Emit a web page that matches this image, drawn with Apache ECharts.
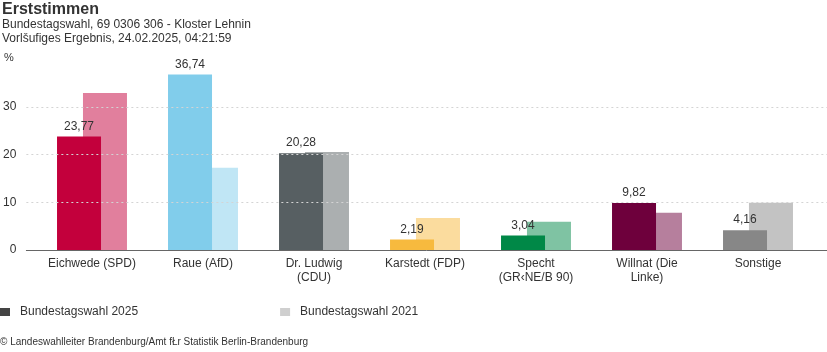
<!DOCTYPE html>
<html>
<head>
<meta charset="utf-8">
<script src="https://cdn.jsdelivr.net/npm/echarts@6/dist/echarts.min.js"></script>
<style>html,body{margin:0;padding:0;background:#fff}#c{width:827px;height:352px}</style>
</head>
<body>
<div id="c"></div>
<script>
const categories = ['Eichwede (SPD)', 'Raue (AfD)', 'Dr. Ludwig\n(CDU)', 'Karstedt (FDP)', 'Specht\n(GR\u2039NE/B 90)', 'Willnat (Die\nLinke)', 'Sonstige'];
const values2025 = [23.77, 36.74, 20.28, 2.19, 3.04, 9.82, 4.16];
const values2021 = [32.9, 17.2, 20.5, 6.7, 5.9, 7.8, 9.9];
const partyColors = ['#c3003c', '#81cdeb', '#575f62', '#f7ba3e', '#008847', '#6e003c', '#878787'];
const seriesNames = ['Bundestagswahl 2025', 'Bundestagswahl 2021'];
const gridValues = [10, 20, 30];
const yTicks = [0, 10, 20, 30, 40];

const FONT = '"Liberation Sans", Arial, sans-serif';
const chart = echarts.init(document.getElementById('c'), null, {renderer: 'canvas'});

const option = {
  animation: false,
  textStyle: {fontFamily: FONT},
  graphic: [
    {type: 'text', left: 2, top: 2, style: {text: 'Erststimmen', font: 'bold 16px ' + FONT, fill: '#333'}},
    {type: 'text', left: 2, top: 18.5, style: {text: 'Bundestagswahl, 69 0306 306 - Kloster Lehnin', font: '12px ' + FONT, fill: '#333'}},
    {type: 'text', left: 2, top: 33, style: {text: 'Vorl\u0161ufiges Ergebnis, 24.02.2025, 04:21:59', font: '12px ' + FONT, fill: '#333'}},
    {type: 'text', left: 4, top: 52, style: {text: '%', font: '11px ' + FONT, fill: '#333'}},
    {type: 'text', left: 0, top: 337, style: {text: '\u00a9 Landeswahlleiter Brandenburg/Amt f\u0141r Statistik Berlin-Brandenburg', font: '10px ' + FONT, fill: '#333'}}
  ],
  legend: {
    left: 0, top: 306, padding: 0,
    itemWidth: 10, itemHeight: 8, itemGap: 142,
    icon: 'rect',
    data: seriesNames,
    textStyle: {fontSize: 12, color: '#333', fontFamily: FONT, padding: [0, 0, 0, 5]},
    selectedMode: false
  },
  grid: [
    {left: 23, right: 0, top: 59, bottom: 102},
    {left: 36.5, right: 13.5, top: 59, bottom: 102}
  ],
  xAxis: [
    {type: 'value', gridIndex: 0, min: 0, max: 1, position: 'bottom',
     axisLine: {show: true, lineStyle: {color: '#666', width: 1}},
     axisTick: {show: false}, axisLabel: {show: false}, splitLine: {show: false}},
    {type: 'category', gridIndex: 1, data: categories,
     axisLine: {show: false}, axisTick: {show: false},
     axisLabel: {interval: 0, fontSize: 12, color: '#333', lineHeight: 14, margin: 7, fontFamily: FONT}}
  ],
  yAxis: [
    {type: 'value', gridIndex: 0, min: yTicks[0], max: yTicks[yTicks.length - 1], interval: 10,
     axisLine: {show: false}, axisTick: {show: false}, splitLine: {show: false},
     axisLabel: {fontSize: 12, color: '#333', margin: 10, fontFamily: FONT,
       formatter: v => (v === 40 ? '' : String(v))}},
    {type: 'value', gridIndex: 1, min: 0, max: 40, show: false}
  ],
  series: [
    {
      type: 'line', xAxisIndex: 0, yAxisIndex: 0, data: [], silent: true, z: 1,
      markLine: {
        silent: true, symbol: 'none', label: {show: false},
        lineStyle: {color: '#d4d4d4', type: [2, 3], width: 1},
        data: gridValues.map(g => [{coord: [0, g]}, {coord: [1, g]}])
      }
    },
    {
      name: seriesNames[0], type: 'bar', xAxisIndex: 1, yAxisIndex: 1, z: 4,
      barWidth: 44, barGap: '-41%',
      itemStyle: {color: '#444'},
      data: values2025.map((v, i) => ({value: v, itemStyle: {color: partyColors[i]}})),
      label: {show: true, position: 'top', distance: 4, fontSize: 12, color: '#333', fontFamily: FONT,
        formatter: p => p.value.toFixed(2).replace('.', ',')}
    },
    {
      name: seriesNames[1], type: 'bar', xAxisIndex: 1, yAxisIndex: 1, z: 3,
      barWidth: 44,
      itemStyle: {color: '#cfcfcf'},
      data: values2021.map((v, i) => ({value: v, itemStyle: {color: partyColors[i], opacity: 0.5}}))
    }
  ]
};
chart.setOption(option);
</script>
</body>
</html>
